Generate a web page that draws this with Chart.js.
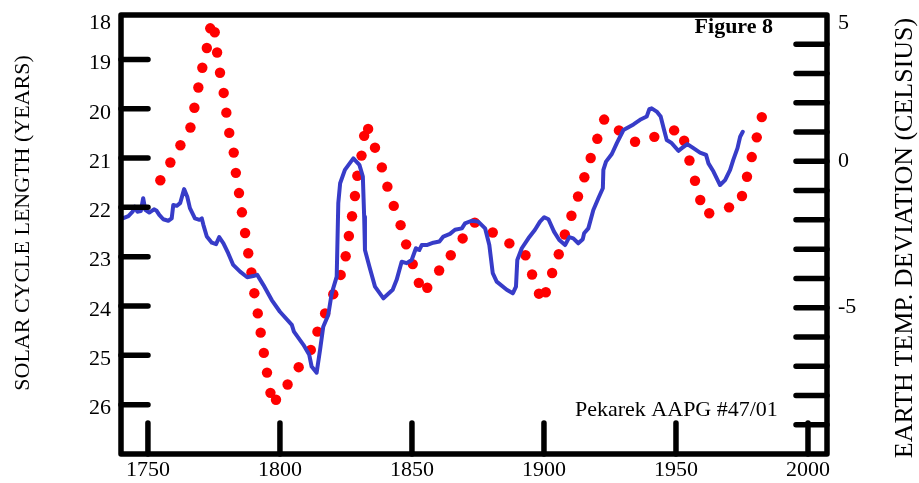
<!DOCTYPE html>
<html>
<head>
<meta charset="utf-8">
<script src="https://cdn.jsdelivr.net/npm/chart.js@4"></script>
<style>
    html, body { margin: 0; padding: 0; background: #fff; }
    #wrap { width: 919px; height: 483px; position: relative; }
</style>
</head>
<body>
<div id="wrap"><canvas id="chart"></canvas></div>
<script>
// blue curve: earth temperature deviation (right axis)
const lineYears = [1739.8, 1740.7, 1742.6, 1744.2, 1745.1, 1746.0, 1747.3, 1748.2, 1749.0, 1750.5,
    1752.3, 1753.3, 1754.3, 1755.8, 1757.7, 1759.0, 1759.6, 1760.9, 1762.2, 1763.7,
    1764.9, 1765.9, 1767.8, 1769.5, 1770.4, 1771.0, 1772.3, 1774.2, 1775.8, 1777.0,
    1778.6, 1780.4, 1782.3, 1784.9, 1787.6, 1789.9, 1791.4, 1793.7, 1796.9, 1800.0,
    1804.5, 1805.3, 1808.9, 1811.1, 1812.0, 1813.9, 1815.2, 1816.4, 1818.3, 1819.6,
    1821.5, 1822.1, 1822.8, 1824.6, 1827.8, 1830.1, 1831.4, 1831.9, 1832.2, 1833.9,
    1836.0, 1839.2, 1842.7, 1844.2, 1846.1, 1848.0, 1849.9, 1851.5, 1852.8, 1853.7,
    1855.6, 1858.1, 1860.4, 1861.9, 1864.4, 1866.3, 1868.9, 1870.1, 1872.6, 1875.1,
    1877.7, 1879.3, 1880.6, 1882.1, 1885.9, 1888.2, 1889.4, 1889.9, 1891.6, 1894.1,
    1896.6, 1898.5, 1900.1, 1901.7, 1903.8, 1905.8, 1908.0, 1909.6, 1911.1, 1913.0,
    1914.7, 1915.2, 1916.8, 1918.7, 1920.6, 1922.3, 1922.5, 1923.5, 1925.7, 1927.6,
    1930.1, 1933.9, 1936.8, 1938.9, 1939.9, 1940.8, 1942.7, 1944.2, 1945.5, 1946.5,
    1948.4, 1950.9, 1952.2, 1954.3, 1956.6, 1959.1, 1961.4, 1962.3, 1964.2, 1966.7,
    1968.6, 1970.5, 1971.7, 1973.3, 1974.3, 1975.3];
const lineTemp = [-1.97, -1.94, -1.87, -1.72, -1.55, -1.72, -1.70, -1.26, -1.66, -1.75,
    -1.64, -1.69, -1.83, -1.98, -2.03, -1.95, -1.49, -1.52, -1.43, -0.95,
    -1.21, -1.60, -1.95, -2.00, -1.95, -2.17, -2.57, -2.78, -2.83, -2.59,
    -2.80, -3.14, -3.54, -3.77, -3.96, -3.92, -3.88, -4.22, -4.74, -5.14,
    -5.59, -5.82, -6.27, -6.61, -7.01, -7.22, -6.44, -5.65, -5.25, -4.51,
    -3.94, -1.43, -0.75, -0.29, 0.10, -0.12, -0.52, -1.89, -3.03, -3.60,
    -4.28, -4.68, -4.39, -4.05, -3.43, -3.48, -3.37, -2.97, -3.03, -2.86,
    -2.86, -2.78, -2.74, -2.57, -2.48, -2.34, -2.29, -2.12, -2.03, -2.06,
    -2.29, -2.86, -3.82, -4.11, -4.39, -4.51, -4.28, -3.37, -2.97, -2.63,
    -2.34, -2.06, -1.91, -1.98, -2.40, -2.69, -2.86, -2.59, -2.63, -2.80,
    -2.66, -2.46, -2.29, -1.66, -1.26, -0.92, -0.29, -0.01, 0.25, 0.62,
    1.07, 1.26, 1.44, 1.53, 1.78, 1.81, 1.70, 1.53, 1.07, 0.73,
    0.62, 0.36, 0.45, 0.59, 0.45, 0.30, 0.22, -0.07, -0.35, -0.81,
    -0.64, -0.29, 0.05, 0.45, 0.84, 1.01];

// red dots: solar cycle length (left axis)
const dotYears = [1754.7, 1758.5, 1762.3, 1766.1, 1767.6, 1769.1, 1770.6, 1772.3, 1773.6, 1775.3,
    1776.2, 1777.3, 1778.7, 1779.7, 1780.8, 1782.5, 1783.3, 1784.5, 1785.6, 1786.8,
    1788.0, 1789.2, 1790.3, 1791.6, 1792.7, 1793.9, 1795.1, 1796.4, 1798.5, 1802.9,
    1807.1, 1811.7, 1814.2, 1817.1, 1820.2, 1823.0, 1824.9, 1826.1, 1827.3, 1828.4,
    1829.3, 1830.9, 1831.9, 1833.4, 1836.0, 1838.6, 1840.7, 1843.1, 1845.7, 1847.8,
    1850.3, 1852.6, 1855.8, 1860.3, 1864.7, 1869.2, 1873.8, 1880.6, 1886.9, 1893.0,
    1895.5, 1898.1, 1900.7, 1903.1, 1905.6, 1907.9, 1910.4, 1912.9, 1915.3, 1917.7,
    1920.2, 1922.8, 1928.4, 1934.5, 1941.8, 1949.3, 1953.1, 1955.1, 1957.2, 1959.2,
    1962.6, 1970.1, 1975.0, 1976.9, 1978.7, 1980.6, 1982.5];
const dotCycle = [21.45, 21.09, 20.74, 20.38, 19.98, 19.57, 19.17, 18.77, 18.37, 18.45,
    18.86, 19.27, 19.68, 20.08, 20.49, 20.89, 21.30, 21.71, 22.10, 22.52,
    22.93, 23.32, 23.74, 24.15, 24.54, 24.95, 25.35, 25.76, 25.90, 25.59,
    25.24, 24.89, 24.52, 24.15, 23.76, 23.37, 22.99, 22.58, 22.18, 21.77,
    21.36, 20.95, 20.55, 20.41, 20.79, 21.19, 21.58, 21.97, 22.36, 22.75,
    23.15, 23.53, 23.63, 23.28, 22.97, 22.63, 22.31, 22.51, 22.73, 22.97,
    23.36, 23.75, 23.72, 23.33, 22.95, 22.55, 22.17, 21.78, 21.39, 21.00,
    20.61, 20.22, 20.44, 20.67, 20.57, 20.44, 20.65, 21.05, 21.46, 21.85,
    22.12, 22.00, 21.77, 21.38, 20.98, 20.58, 20.17];

// tick labels
const yearTicks = [1750, 1800, 1850, 1900, 1950, 2000];
const cycleTicks = [18, 19, 20, 21, 22, 23, 24, 25, 26];
const tempLabels = [5, 0, -5];
const tempMarks = [4, 3, 2, 1, 0, -1, -2, -3, -4, -5, -6, -7, -8, -9];

const FONT = '"Liberation Serif", "Times New Roman", serif';

let myChart = null;

window.onload = function () {
    initChart();
};

function toPoints(xs, ys) {
    let pts = [];
    for (let i = 0; i < xs.length; ++i) {
        pts.push({ x: xs[i], y: ys[i] });
    }
    return pts;
}

// frame, inward ticks and all the texts
const frameAxes = {
    id: 'frameAxes',
    afterDatasetsDraw(chart) {
        let ctx = chart.ctx;
        let a = chart.chartArea;
        let sx = chart.scales.x;
        let sl = chart.scales.yCycle;
        let sr = chart.scales.yTemp;

        ctx.save();
        ctx.strokeStyle = '#000';
        ctx.lineWidth = 5.5;
        ctx.lineCap = 'round';
        ctx.lineJoin = 'round';
        ctx.strokeRect(a.left, a.top, a.right - a.left, a.bottom - a.top);

        ctx.beginPath();
        cycleTicks.forEach(function (v) {
            if (v <= sl.min) return;
            let y = sl.getPixelForValue(v);
            ctx.moveTo(a.left, y);
            ctx.lineTo(a.left + 27, y);
        });
        tempMarks.forEach(function (v) {
            let y = sr.getPixelForValue(v);
            ctx.moveTo(a.right, y);
            ctx.lineTo(a.right - 31, y);
        });
        yearTicks.forEach(function (v) {
            let x = sx.getPixelForValue(v);
            ctx.moveTo(x, a.bottom);
            ctx.lineTo(x, a.bottom - 31);
        });
        ctx.stroke();

        ctx.fillStyle = '#000';
        ctx.font = '22px ' + FONT;
        ctx.textBaseline = 'middle';

        ctx.textAlign = 'right';
        cycleTicks.forEach(function (v) {
            let y = Math.max(sl.getPixelForValue(v) + 4, a.top + 8);
            ctx.fillText(String(v), a.left - 10, y);
        });

        ctx.textAlign = 'left';
        tempLabels.forEach(function (v) {
            let y = Math.max(sr.getPixelForValue(v), a.top + 8);
            ctx.fillText(String(v), a.right + 11, y);
        });

        ctx.textAlign = 'center';
        yearTicks.forEach(function (v) {
            ctx.fillText(String(v), sx.getPixelForValue(v), a.bottom + 16);
        });

        ctx.textAlign = 'left';
        ctx.fillText('Pekarek AAPG #47/01', 575, 410);
        ctx.font = 'bold 22px ' + FONT;
        ctx.textAlign = 'right';
        ctx.fillText('Figure 8', 773, 27);

        ctx.font = '22px ' + FONT;
        ctx.textAlign = 'center';
        ctx.save();
        ctx.translate(23, 223);
        ctx.rotate(-Math.PI / 2);
        ctx.fillText('SOLAR CYCLE LENGTH (YEARS)', 0, 0);
        ctx.restore();

        ctx.save();
        ctx.font = '26px ' + FONT;
        ctx.translate(905, 238);
        ctx.rotate(-Math.PI / 2);
        ctx.fillText('EARTH TEMP. DEVIATION (CELSIUS)', 0, 0);
        ctx.restore();

        ctx.restore();
    }
};

function initChart() {
    let ctx = document.getElementById('chart').getContext('2d');
    myChart = new Chart(ctx, {
        type: 'line',
        data: {
            datasets: [{
                label: 'Earth temp. deviation',
                data: toPoints(lineYears, lineTemp),
                yAxisID: 'yTemp',
                borderColor: 'rgb(55, 60, 200)',
                borderWidth: 4,
                borderJoinStyle: 'round',
                borderCapStyle: 'round',
                pointRadius: 0,
                tension: 0,
                fill: false
            }, {
                label: 'Solar cycle length',
                data: toPoints(dotYears, dotCycle),
                yAxisID: 'yCycle',
                showLine: false,
                pointRadius: 5.2,
                pointBackgroundColor: 'rgb(255, 0, 0)',
                pointBorderWidth: 0,
                pointBorderColor: 'rgb(255, 0, 0)'
            }]
        },
        options: {
            responsive: true,
            maintainAspectRatio: false,
            animation: false,
            layout: {
                padding: { left: 121, right: 92, top: 15, bottom: 29 }
            },
            plugins: {
                legend: { display: false },
                tooltip: { enabled: false }
            },
            scales: {
                x: { type: 'linear', min: 1739.8, max: 2007.2, display: false },
                yCycle: { type: 'linear', position: 'left', min: 18.1, max: 27.0, reverse: true, display: false },
                yTemp: { type: 'linear', position: 'right', min: -10, max: 5, display: false }
            }
        },
        plugins: [frameAxes]
    });
}
</script>
</body>
</html>
